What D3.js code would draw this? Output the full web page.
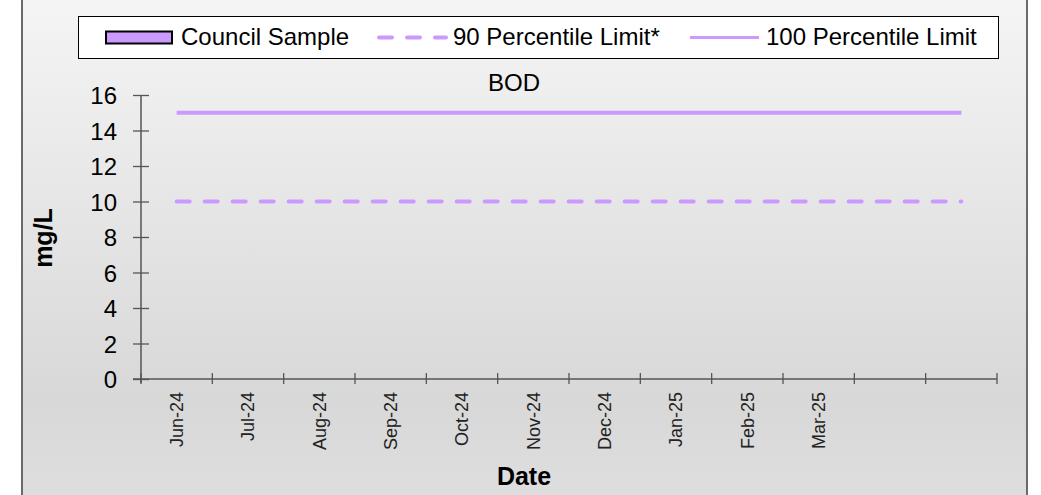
<!DOCTYPE html>
<html>
<head>
<meta charset="utf-8">
<script src="https://cdn.jsdelivr.net/npm/d3@7"></script>
<style>
  body { margin: 0; background: #fff; }
  text { font-family: "Liberation Sans", Arial, sans-serif; fill: #000; }
</style>
</head>
<body>
<script>
// data
var categories = ["Jun-24","Jul-24","Aug-24","Sep-24","Oct-24","Nov-24","Dec-24","Jan-25","Feb-25","Mar-25","Apr-25","May-25"];
var tickLabels = ["Jun-24","Jul-24","Aug-24","Sep-24","Oct-24","Nov-24","Dec-24","Jan-25","Feb-25","Mar-25","",""];
var councilSample = [null,null,null,null,null,null,null,null,null,null,null,null];
var limit90 = [10,10,10,10,10,10,10,10,10,10,10,10];
var limit100 = [15,15,15,15,15,15,15,15,15,15,15,15];
var yTicks = [0,2,4,6,8,10,12,14,16];

var width = 1041, height = 495;
var lav = "#cc99ff";
var plot = {left: 141, right: 997, top: 95, bottom: 379};

var svg = d3.select("body").append("svg").attr("width", width).attr("height", height);

var defs = svg.append("defs");
var grad = defs.append("linearGradient").attr("id", "bg").attr("x1", 0).attr("y1", 0).attr("x2", 0).attr("y2", 1);
grad.append("stop").attr("offset", "0%").attr("stop-color", "#f5f5f5");
grad.append("stop").attr("offset", "80%").attr("stop-color", "#d8d8d8");
grad.append("stop").attr("offset", "100%").attr("stop-color", "#dedede");

// chart area background + border
svg.append("rect").attr("x", 22).attr("y", -5).attr("width", 1005).attr("height", height + 10)
    .attr("fill", "url(#bg)").attr("stroke", "#6a6a6a").attr("stroke-width", 2);

var x = d3.scaleBand().domain(categories).range([plot.left, plot.right]);
var y = d3.scaleLinear().domain([0, 16]).range([plot.bottom, plot.top]);

var chartGroup = svg.append("g");

// y axis
var yAxis = chartGroup.append("g")
    .attr("transform", "translate(" + plot.left + ",0)")
    .call(d3.axisLeft(y).tickValues(yTicks).tickSize(8).tickPadding(16));
yAxis.select(".domain").remove();
yAxis.selectAll(".tick line").attr("x1", -8).attr("x2", 8).attr("stroke", "#555").attr("stroke-width", 1.3);
yAxis.selectAll(".tick text").style("font-size", "24px").attr("dy", "0.36em");
chartGroup.append("line")
    .attr("x1", plot.left).attr("x2", plot.left)
    .attr("y1", y(16)).attr("y2", plot.bottom + 4)
    .attr("stroke", "#555").attr("stroke-width", 1.5);

// x axis: ticks on category boundaries, labels in the band centres
var bounds = categories.map(function(d){ return x(d); }).concat([plot.right]);
chartGroup.append("line")
    .attr("x1", plot.left - 8).attr("x2", plot.right)
    .attr("y1", plot.bottom).attr("y2", plot.bottom)
    .attr("stroke", "#555").attr("stroke-width", 1.5);
chartGroup.append("g").selectAll("line").data(bounds).enter().append("line")
    .attr("x1", function(d){ return d; }).attr("x2", function(d){ return d; })
    .attr("y1", plot.bottom - 6).attr("y2", plot.bottom + 5)
    .attr("stroke", "#555").attr("stroke-width", 1.3);
chartGroup.append("g").selectAll("text").data(categories).enter().append("text")
    .attr("transform", function(d){ return "translate(" + (x(d) + x.bandwidth() / 2) + "," + (plot.bottom + 13) + ") rotate(-90)"; })
    .attr("dy", "0.35em")
    .style("text-anchor", "end")
    .style("font-size", "18px")
    .style("fill", "#222")
    .text(function(d, i){ return tickLabels[i]; });

// axis titles + chart title
chartGroup.append("text")
    .attr("transform", "translate(52,238) rotate(-90)")
    .style("text-anchor", "middle").style("font-size", "25px").style("font-weight", "bold")
    .text("mg/L");
chartGroup.append("text")
    .attr("x", 524).attr("y", 485)
    .style("text-anchor", "middle").style("font-size", "25px").style("font-weight", "bold")
    .text("Date");
chartGroup.append("text")
    .attr("x", 514).attr("y", 91)
    .style("text-anchor", "middle").style("font-size", "24px")
    .text("BOD");

// lines
var line = d3.line()
    .defined(function(d){ return d != null; })
    .x(function(d, i){ return x(categories[i]) + x.bandwidth() / 2; })
    .y(function(d){ return y(d); });

chartGroup.append("path").attr("fill", "none").attr("stroke", lav).attr("stroke-width", 4)
    .attr("d", line(limit100));
chartGroup.append("path").attr("fill", "none").attr("stroke", lav).attr("stroke-width", 4)
    .attr("stroke-dasharray", "13,15").attr("stroke-linecap", "round")
    .attr("d", line(limit90));
chartGroup.append("path").attr("fill", "none").attr("stroke", lav).attr("stroke-width", 4)
    .attr("d", line(councilSample));

// legend
var legend = svg.append("g");
legend.append("rect").attr("x", 78.5).attr("y", 16.5).attr("width", 920).attr("height", 42)
    .attr("fill", "#fff").attr("stroke", "#000").attr("stroke-width", 1);
legend.append("rect").attr("x", 106).attr("y", 31.5).attr("width", 66).attr("height", 12)
    .attr("fill", lav).attr("stroke", "#000").attr("stroke-width", 2);
legend.append("text").attr("x", 181).attr("y", 45).style("font-size", "24px").text("Council Sample");
legend.append("line").attr("x1", 379).attr("x2", 446).attr("y1", 37.5).attr("y2", 37.5)
    .attr("stroke", lav).attr("stroke-width", 4).attr("stroke-dasharray", "13,15").attr("stroke-linecap", "round");
legend.append("text").attr("x", 453).attr("y", 45).style("font-size", "24px").text("90 Percentile Limit*");
legend.append("line").attr("x1", 690).attr("x2", 759).attr("y1", 37.5).attr("y2", 37.5)
    .attr("stroke", lav).attr("stroke-width", 3);
legend.append("text").attr("x", 766).attr("y", 45).style("font-size", "24px").text("100 Percentile Limit");
</script>
</body>
</html>
